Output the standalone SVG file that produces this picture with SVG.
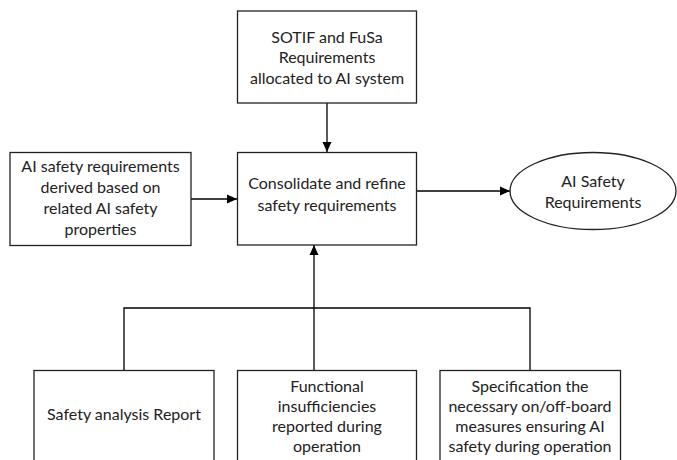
<svg xmlns="http://www.w3.org/2000/svg" width="677" height="460" viewBox="0 0 677 460">
<defs>
<marker id="ah" markerWidth="10" markerHeight="10" refX="10" refY="5" orient="auto" markerUnits="userSpaceOnUse">
<path d="M0,0.5 L10,5 L0,9.5 Z" fill="#000"/>
</marker>
<style>
.box{fill:#fff;stroke:#222;stroke-width:1.3}
.t{font-family:Lato,"Open Sans","Liberation Sans",sans-serif;font-size:16px;fill:#222;text-anchor:middle}
.c{fill:none;stroke:#000;stroke-width:1.3}
</style>
</defs>
<rect width="677" height="460" fill="#fff"/>
<g id="connectors">
<line class="c" x1="327" y1="103" x2="327" y2="152" marker-end="url(#ah)"/>
<line class="c" x1="191" y1="199" x2="237" y2="199" marker-end="url(#ah)"/>
<line class="c" x1="416" y1="191" x2="510" y2="191" marker-end="url(#ah)"/>
<polyline class="c" points="124,370 124,308 530,308 530,370"/>
<line class="c" x1="314" y1="370" x2="314" y2="245" marker-end="url(#ah)"/>
</g>
<g id="sotif">
<rect class="box" x="237.5" y="11" width="179" height="92"/>
<text class="t" x="327" y="42.5">SOTIF and FuSa</text>
<text class="t" x="327" y="63">Requirements</text>
<text class="t" x="327" y="83.5">allocated to AI system</text>
</g>
<g id="derived">
<rect class="box" x="10" y="152.5" width="181" height="93"/>
<text class="t" x="100.5" y="172">AI safety requirements</text>
<text class="t" x="100.5" y="193">derived based on</text>
<text class="t" x="100.5" y="214">related AI safety</text>
<text class="t" x="100.5" y="235">properties</text>
</g>
<g id="consolidate">
<rect class="box" x="237.5" y="152.5" width="179" height="92.5"/>
<text class="t" x="327" y="188.5">Consolidate and refine</text>
<text class="t" x="327" y="211">safety requirements</text>
</g>
<g id="output">
<ellipse class="box" cx="593" cy="191" rx="83" ry="38.5"/>
<text class="t" x="593" y="187">AI Safety</text>
<text class="t" x="593" y="208">Requirements</text>
</g>
<g id="analysis">
<rect class="box" x="34" y="370.5" width="180" height="100"/>
<text class="t" x="124" y="419.5">Safety analysis Report</text>
</g>
<g id="insufficiencies">
<rect class="box" x="237.5" y="370.5" width="179" height="100"/>
<text class="t" x="327" y="391.5">Functional</text>
<text class="t" x="327" y="411.5">insufficiencies</text>
<text class="t" x="327" y="431.5">reported during</text>
<text class="t" x="327" y="451.5">operation</text>
</g>
<g id="measures">
<rect class="box" x="440" y="370.5" width="180.5" height="100"/>
<text class="t" x="530" y="391.5">Specification the</text>
<text class="t" x="530" y="411.5">necessary on/off-board</text>
<text class="t" x="530" y="431.5">measures ensuring AI</text>
<text class="t" x="530" y="451.5">safety during operation</text>
</g>
</svg>
